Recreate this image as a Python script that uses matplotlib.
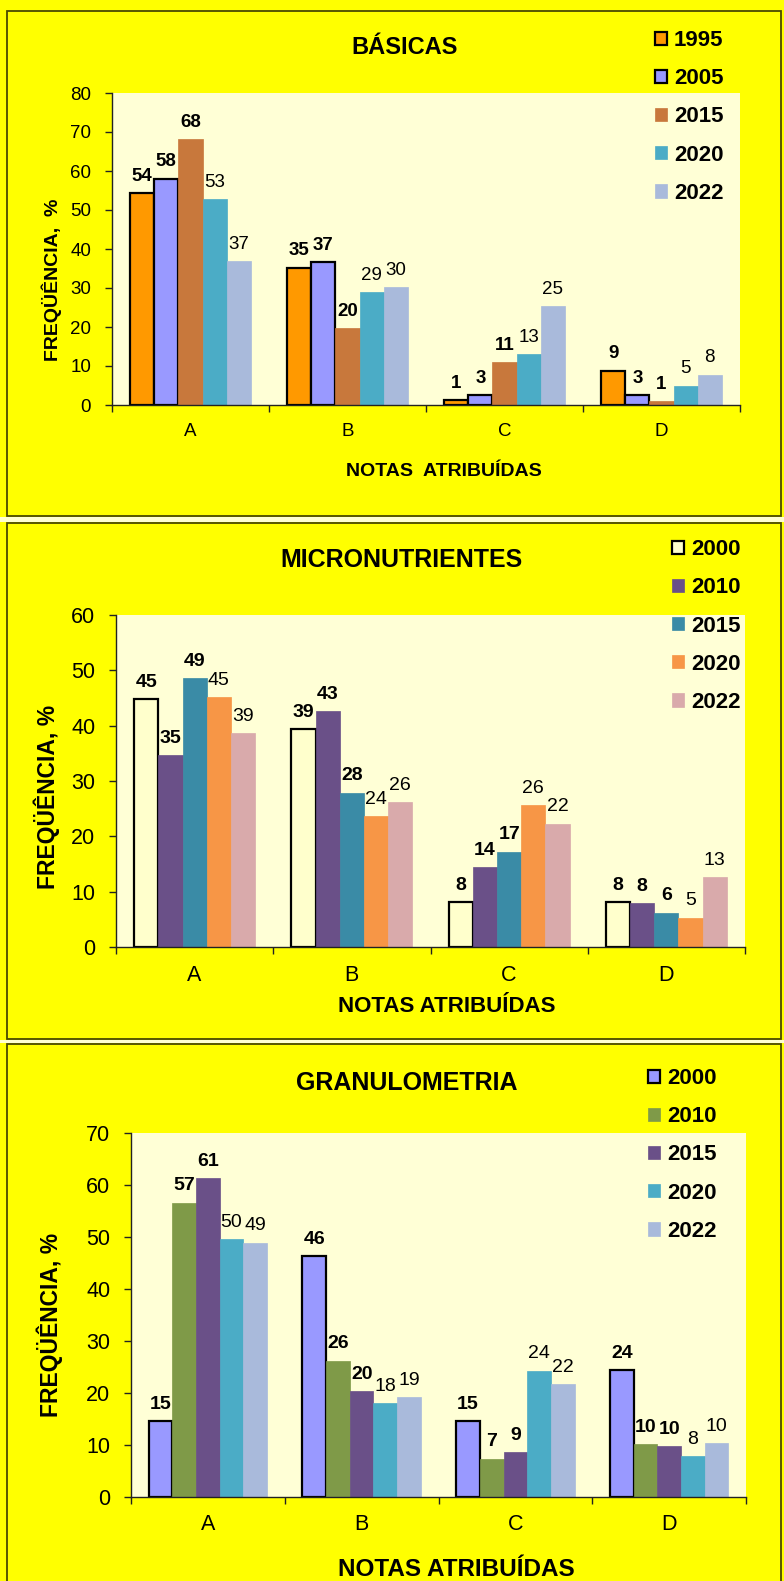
import numpy as np
import matplotlib
matplotlib.use("Agg")
import matplotlib.pyplot as plt
from matplotlib.patches import Rectangle

plt.rcParams['font.family'] = ['Liberation Sans', 'DejaVu Sans']

W, H = 784, 1581

grades = ['A', 'B', 'C', 'D']

# BÁSICAS
basicas_years = ['1995', '2005', '2015', '2020', '2022']
basicas_1995 = [54.4, 35.2, 1.2, 8.8]
basicas_2005 = [58.0, 36.7, 2.6, 2.6]
basicas_2015 = [68.1, 19.7, 11.0, 0.9]
basicas_2020 = [52.8, 29.0, 13.0, 5.0]
basicas_2022 = [36.9, 30.2, 25.3, 7.8]

# MICRONUTRIENTES
micro_years = ['2000', '2010', '2015', '2020', '2022']
micro_2000 = [44.8, 39.4, 8.1, 8.1]
micro_2010 = [34.7, 42.6, 14.4, 7.9]
micro_2015 = [48.6, 27.9, 17.2, 6.2]
micro_2020 = [45.2, 23.7, 25.6, 5.3]
micro_2022 = [38.7, 26.2, 22.3, 12.6]

# GRANULOMETRIA
granu_years = ['2000', '2010', '2015', '2020', '2022']
granu_2000 = [14.6, 46.3, 14.6, 24.4]
granu_2010 = [56.6, 26.2, 7.4, 10.1]
granu_2015 = [61.3, 20.4, 8.6, 9.8]
granu_2020 = [49.6, 18.0, 24.3, 7.9]
granu_2022 = [48.9, 19.2, 21.7, 10.4]


def fx(px):
    return px / W


def fy(py):
    return 1 - py / H


fig = plt.figure(figsize=(W / 100, H / 100), dpi=100, facecolor='#FFFF00')

# panel frames and the pale strips between them
for top, bot in [(11, 516), (523, 1039), (1044, 1600)]:
    fig.patches.append(Rectangle((fx(7), fy(bot)), fx(781) - fx(7), fy(top) - fy(bot),
                                 transform=fig.transFigure, facecolor='#FFFF00',
                                 edgecolor='#4A4A00', lw=1.3, zorder=-10))
for top, bot in [(517, 522), (1040, 1043)]:
    fig.patches.append(Rectangle((0, fy(bot)), 1, fy(top) - fy(bot),
                                 transform=fig.transFigure, facecolor='#FFFFD0',
                                 edgecolor='none', zorder=-10))

panels = [
    dict(title='BÁSICAS', years=basicas_years,
         series=[basicas_1995, basicas_2005, basicas_2015, basicas_2020, basicas_2022],
         colors=['#FF9900', '#9999FF', '#C8783C', '#4BACC6', '#A9BADB'],
         edged=[True, True, False, False, False],
         ymax=80, box=(112, 740, 93, 405),
         title_xy=(405, 47), title_fs=17,
         leg_x=655, leg_y=117, leg_fs=16,
         tick_fs=13.5, xtick_pad=13, val_fs=13.5,
         xlabel='NOTAS  ATRIBUÍDAS', xlabel_xy=(444, 472), xlabel_fs=14,
         ylabel='FREQÜÊNCIA,  %', ylabel_xy=(52, 280), ylabel_fs=14),
    dict(title='MICRONUTRIENTES', years=micro_years,
         series=[micro_2000, micro_2010, micro_2015, micro_2020, micro_2022],
         colors=['#FFFFCC', '#6A5088', '#3A8BA6', '#F79646', '#D9AAAB'],
         edged=[True, False, False, False, False],
         ymax=60, box=(116, 745, 615, 947),
         title_xy=(402, 560), title_fs=18,
         leg_x=672, leg_y=626, leg_fs=16,
         tick_fs=15.5, xtick_pad=13, val_fs=14,
         xlabel='NOTAS ATRIBUÍDAS', xlabel_xy=(447, 1007), xlabel_fs=16,
         ylabel='FREQÜÊNCIA, %', ylabel_xy=(47, 797), ylabel_fs=16.5),
    dict(title='GRANULOMETRIA', years=granu_years,
         series=[granu_2000, granu_2010, granu_2015, granu_2020, granu_2022],
         colors=['#9999FF', '#7F9A48', '#6A5088', '#4BACC6', '#A9BADB'],
         edged=[True, False, False, False, False],
         ymax=70, box=(131, 746, 1133, 1497),
         title_xy=(407, 1083), title_fs=18,
         leg_x=648, leg_y=1155, leg_fs=16,
         tick_fs=15.5, xtick_pad=12, val_fs=14,
         xlabel='NOTAS ATRIBUÍDAS', xlabel_xy=(456, 1570), xlabel_fs=17.5,
         ylabel='FREQÜÊNCIA, %', ylabel_xy=(50, 1325), ylabel_fs=16.5),
]

x = np.arange(len(grades))
width = 0.154

for p in panels:
    left, right, top, bottom = p['box']
    ax = fig.add_axes([fx(left), fy(bottom), fx(right) - fx(left), fy(top) - fy(bottom)])
    ax.set_facecolor('#FFFFD6')

    for i, (year, vals, col, edged) in enumerate(zip(p['years'], p['series'], p['colors'], p['edged'])):
        bars = ax.bar(x + (i - 2) * width, vals, width, color=col, label=year,
                      edgecolor='black' if edged else col, linewidth=1.6 if edged else 0.5,
                      zorder=2)
        ax.bar_label(bars, fmt='%.0f', padding=6, fontsize=p['val_fs'],
                     fontweight='bold' if i < 3 else 'normal')

    ax.set_xlim(-0.5, len(grades) - 0.5)
    ax.set_ylim(0, p['ymax'])
    ax.set_yticks(range(0, p['ymax'] + 1, 10))
    ax.set_xticks(x)
    ax.set_xticklabels(grades)
    ax.set_xticks(np.arange(-0.5, len(grades), 1), minor=True)
    ax.tick_params(axis='x', which='major', length=0, pad=p['xtick_pad'], labelsize=p['tick_fs'])
    ax.tick_params(axis='x', which='minor', length=5, width=1, color='#222222')
    ax.tick_params(axis='y', length=5, width=1, color='#222222', pad=10, labelsize=p['tick_fs'])
    for s in ['top', 'right']:
        ax.spines[s].set_visible(False)
    for s in ['left', 'bottom']:
        ax.spines[s].set_color('#222222')
        ax.spines[s].set_linewidth(1)

    fig.text(fx(p['title_xy'][0]), fy(p['title_xy'][1]), p['title'], ha='center', va='center',
             fontsize=p['title_fs'], fontweight='bold')
    fig.text(fx(p['xlabel_xy'][0]), fy(p['xlabel_xy'][1]), p['xlabel'], ha='center', va='center',
             fontsize=p['xlabel_fs'], fontweight='bold')
    fig.text(fx(p['ylabel_xy'][0]), fy(p['ylabel_xy'][1]), p['ylabel'], ha='center', va='center',
             rotation=90, fontsize=p['ylabel_fs'], fontweight='bold')

    ax.legend(loc='center left', bbox_to_anchor=(fx(p['leg_x']), fy(p['leg_y'])),
              bbox_transform=fig.transFigure, frameon=False, borderpad=0, borderaxespad=0,
              handlelength=0.55, handleheight=0.55, handletextpad=0.3, labelspacing=0.77,
              prop={'weight': 'bold', 'size': p['leg_fs']})

fig.savefig('out.png', dpi=100, facecolor=fig.get_facecolor())
